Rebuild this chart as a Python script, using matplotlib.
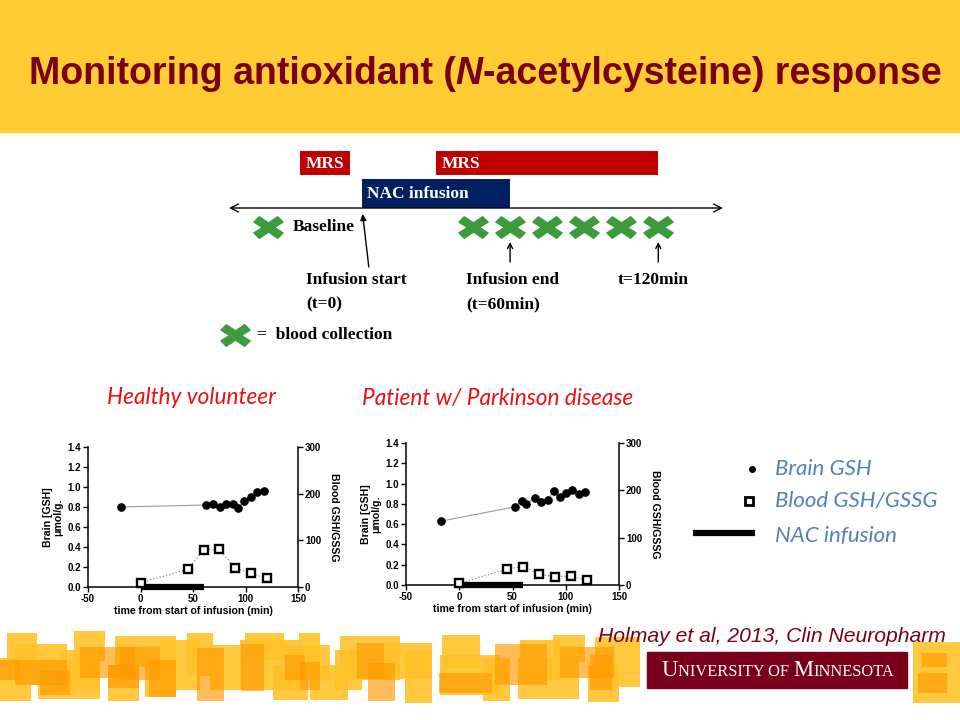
import matplotlib
matplotlib.use("Agg")
import matplotlib.pyplot as plt
from matplotlib.patches import Rectangle
from matplotlib.path import Path
from matplotlib.offsetbox import TextArea, HPacker, AnnotationBbox

# ---------------- data ----------------
# Healthy volunteer
hv_brain_t = [-19, 62, 69, 75.5, 81, 88, 93, 99, 105, 111, 118]
hv_brain_v = [0.80, 0.82, 0.83, 0.80, 0.83, 0.83, 0.79, 0.86, 0.90, 0.95, 0.96]
hv_blood_t = [0, 45, 60, 75, 90, 105, 120]
hv_blood_v = [9, 38, 79, 81, 41, 29, 19]

# Patient w/ Parkinson disease
pd_brain_t = [-17, 52, 58.5, 63, 71, 77, 83, 89, 94.5, 100, 106, 112, 118]
pd_brain_v = [0.63, 0.77, 0.83, 0.80, 0.86, 0.82, 0.84, 0.93, 0.87, 0.91, 0.94, 0.90, 0.92]
pd_blood_t = [0, 45, 60, 75, 90, 105, 120]
pd_blood_v = [3.5, 34, 39, 23, 17.5, 19, 10]

nac_window = [0, 60]          # NAC infusion, minutes

# Protocol timeline (minutes)
mrs_windows = [(-25, -5), (30, 120)]
diagram_blood_times = [-38, 45, 60, 75, 90, 105, 120]

x_ticks = [-50, 0, 50, 100, 150]
left_ticks = [0.0, 0.2, 0.4, 0.6, 0.8, 1.0, 1.2, 1.4]
right_ticks = [0, 100, 200, 300]

W, H = 960, 720
MAROON = "#7A0019"
GOLD = "#FFCC33"

fig = plt.figure(figsize=(9.6, 7.2), dpi=100)
fig.patch.set_facecolor("white")

# ---------------- overlay (pixel coordinates) ----------------
ov = fig.add_axes([0, 0, 1, 1])
ov.set_xlim(0, W)
ov.set_ylim(H, 0)
ov.axis("off")

# header band
ov.add_patch(Rectangle((0, 0), W, 132, color=GOLD, zorder=0))
title_parts = [("Monitoring antioxidant (", "normal"), ("N", "italic"),
               ("-acetylcysteine) response", "normal")]
boxes = [TextArea(t, textprops=dict(fontsize=27, fontweight="bold", color=MAROON,
                                    family="Liberation Sans", style=s))
         for t, s in title_parts]
hp = HPacker(children=boxes, pad=0, sep=0, align="baseline")
ov.add_artist(AnnotationBbox(hp, (485, 74), xycoords="data", frameon=False,
                             box_alignment=(0.5, 0.5)))

# bottom decorative squares
deco_yellow = [(7, 633, 37, 668), (15, 644, 67, 685), (0, 658, 31, 701), (38, 659, 100, 699),
               (74, 631, 105, 661), (115, 636, 176, 667), (108, 665, 139, 701),
               (187, 633, 213, 676), (245, 633, 284, 660), (273, 665, 308, 700),
               (299, 633, 320, 680), (310, 665, 348, 700), (384, 643, 432, 679),
               (405, 651, 432, 703), (442, 635, 480, 668), (483, 658, 510, 701),
               (518, 658, 579, 699), (553, 635, 585, 662), (588, 665, 619, 702),
               (595, 637, 640, 687), (913, 642, 960, 703), (145, 660, 176, 697),
               (335, 650, 362, 690), (60, 650, 100, 690), (210, 645, 245, 690),
               (283, 645, 330, 680), (240, 640, 300, 690), (520, 640, 560, 680),
               (160, 640, 200, 690), (440, 655, 500, 695), (340, 636, 400, 680)]
deco_orange = [(80, 647, 135, 678), (149, 660, 176, 697), (197, 648, 224, 701),
               (241, 644, 264, 691), (15, 660, 67, 685), (108, 665, 139, 688),
               (357, 643, 384, 679), (368, 663, 395, 701), (439, 673, 492, 693),
               (495, 644, 547, 685), (560, 647, 614, 678), (922, 653, 947, 667),
               (918, 673, 947, 693), (0, 660, 20, 680), (300, 662, 320, 690),
               (590, 655, 612, 690), (120, 647, 160, 680), (40, 670, 70, 695),
               (285, 655, 305, 680)]
for x0, y0, x1, y1 in deco_yellow:
    ov.add_patch(Rectangle((x0, y0), x1 - x0, y1 - y0, color="#FFC229", alpha=0.9,
                           lw=0, zorder=1))
for x0, y0, x1, y1 in deco_orange:
    ov.add_patch(Rectangle((x0, y0), x1 - x0, y1 - y0, color="#FF9A00", alpha=0.65,
                           lw=0, zorder=2))

# citation
ov.text(946, 636, "Holmay et al, 2013, Clin Neuropharm", fontsize=15.2, style="italic",
        color=MAROON, family="Liberation Sans", ha="right", va="center", zorder=5)

# UMN wordmark
ov.add_patch(Rectangle((647, 652), 260, 36, color=MAROON, zorder=5))
umn_parts = [("U", 16.3), ("NIVERSITY OF ", 11.8), ("M", 16.3), ("INNESOTA", 11.8)]
umn_boxes = [TextArea(t, textprops=dict(fontsize=s, color="white", family="Liberation Serif"))
             for t, s in umn_parts]
umn = HPacker(children=umn_boxes, pad=0, sep=0, align="baseline")
ov.add_artist(AnnotationBbox(umn, (778, 670), xycoords="data", frameon=False,
                             box_alignment=(0.5, 0.5), zorder=6))

# chart titles
ov.text(107, 398, "Healthy volunteer", fontsize=16.3, style="italic", color="#E81010",
        family="Lato", ha="left", va="center")
ov.text(362, 398, "Patient w/ Parkinson disease", fontsize=16.3, style="italic",
        color="#E81010", family="Lato", ha="left", va="center")

# right-hand legend
LEG = "#4F81BD"
ov.plot([752], [469], "o", color="black", ms=4)
ov.plot([749], [501], "s", mfc="white", mec="black", mew=2, ms=6)
ov.plot([693, 755], [533, 533], color="black", lw=4.5, solid_capstyle="butt")
for y, t in [(469, "Brain GSH"), (501, "Blood GSH/GSSG"), (536, "NAC infusion")]:
    ov.text(775, y, t, fontsize=16, style="italic", color=LEG, family="Lato",
            ha="left", va="center")

# ---------------- protocol timeline ----------------
tl = fig.add_axes([229 / W, 1 - 350 / H, 494 / W, 210 / H])
tl.set_xlim(-53.8, 146.2)
tl.set_ylim(350, 140)
tl.axis("off")
SERIF = dict(family="Liberation Serif", fontweight="bold", fontsize=12.5)

for t0, t1 in mrs_windows:
    tl.add_patch(Rectangle((t0, 151), t1 - t0, 24, color="#C00000", lw=0))
    tl.text(t0 + 2.4, 164, "MRS", color="white", ha="left", va="center", **SERIF)
tl.add_patch(Rectangle((nac_window[0], 179), nac_window[1] - nac_window[0], 29,
                       color="#002060", lw=0))
tl.text(nac_window[0] + 2, 194, "NAC infusion", color="white", ha="left", va="center", **SERIF)

tl.annotate("", xy=(-53.8, 208), xytext=(146.2, 208),
            arrowprops=dict(arrowstyle="<->", lw=1.0, color="black", mutation_scale=14,
                            shrinkA=0, shrinkB=0))

a, b, d, c, e = 1.35, 1.0, 0.5, 0.42, 0.55
x_verts = [(-a + d, b), (0, c), (a - d, b), (a, b - d), (e, 0), (a, -b + d), (a - d, -b),
           (0, -c), (-a + d, -b), (-a, -b + d), (-e, 0), (-a, b - d), (-a + d, b)]
xmarker = Path(x_verts)
GREEN = "#3C9C3C"
tl.plot(diagram_blood_times, [227] * len(diagram_blood_times), linestyle="none",
        marker=xmarker, ms=21, color=GREEN)
tl.text(-27.9, 227, "Baseline", color="black", ha="left", va="center", **SERIF)

tl.annotate("", xy=(0.3, 214), xytext=(2.8, 267),
            arrowprops=dict(arrowstyle="-|>", lw=1.0, color="black", mutation_scale=9,
                            shrinkA=0, shrinkB=0))
for tt in [60, 120]:
    tl.annotate("", xy=(tt, 242), xytext=(tt, 262),
                arrowprops=dict(arrowstyle="->", lw=1.0, color="black", mutation_scale=9,
                                shrinkA=0, shrinkB=0))
tl.text(-22.7, 280, "Infusion start", ha="left", va="center", **SERIF)
tl.text(-22.7, 304, "(t=0)", ha="left", va="center", **SERIF)
tl.text(42.1, 280, "Infusion end", ha="left", va="center", **SERIF)
tl.text(42.1, 304, "(t=60min)", ha="left", va="center", **SERIF)
tl.text(103.6, 280, "t=120min", ha="left", va="center", **SERIF)

tl.plot([-51.5], [335], linestyle="none", marker=xmarker, ms=21, color=GREEN, clip_on=False)
tl.text(-42.5, 335, "=  blood collection", ha="left", va="center", **SERIF)

# ---------------- charts ----------------
TICKF = dict(family="Liberation Sans", fontweight="bold", fontsize=7)
LABF = dict(family="Liberation Sans", fontweight="bold", fontsize=7.6)


def make_chart(rect, bt, bv, st, sv):
    ax = fig.add_axes(rect)
    ax.set_xlim(-50, 150)
    ax.set_ylim(0, 1.4)
    ax.plot(bt, bv, "-", color="#9a9a9a", lw=0.8, zorder=2)
    ax.plot(bt, bv, "o", color="black", ms=5.2, zorder=3)
    ax.plot(nac_window, [0, 0], color="black", lw=4.5, solid_capstyle="butt",
            clip_on=False, zorder=4)
    ax.set_xticks(x_ticks)
    ax.set_yticks(left_ticks)
    ax.set_xticklabels([str(v) for v in x_ticks], **TICKF)
    ax.set_yticklabels([f"{v:.1f}" for v in left_ticks], **TICKF)
    for s in ["top", "right"]:
        ax.spines[s].set_visible(False)
    for s in ["left", "bottom"]:
        ax.spines[s].set_linewidth(1.1)
    ax.tick_params(direction="out", length=3.5, width=1, pad=1.5)
    ax.set_xlabel("time from start of infusion (min)", labelpad=1.5, **LABF)
    ax.set_ylabel("Brain [GSH]\n\u03bcmol/g.", labelpad=3, linespacing=1.0, **LABF)

    ax2 = ax.twinx()
    ax2.set_ylim(0, 300)
    ax2.plot(st, sv, ":", color="#8c8c8c", lw=0.9, zorder=2)
    ax2.plot(st, sv, "s", mfc="white", mec="black", mew=1.7, ms=5.8, clip_on=False, zorder=5)
    ax2.set_yticks(right_ticks)
    ax2.set_yticklabels([str(v) for v in right_ticks], **TICKF)
    for s in ["top", "left", "bottom"]:
        ax2.spines[s].set_visible(False)
    ax2.spines["right"].set_linewidth(1.1)
    ax2.tick_params(direction="out", length=3.5, width=1, pad=1.5)
    ax2.set_ylabel("Blood GSH/GSSG", rotation=270, labelpad=13, **LABF)
    return ax, ax2


make_chart([88 / W, 1 - 587 / H, 210 / W, 140 / H], hv_brain_t, hv_brain_v, hv_blood_t, hv_blood_v)
make_chart([406 / W, 1 - 585 / H, 213 / W, 142 / H], pd_brain_t, pd_brain_v, pd_blood_t, pd_blood_v)

fig.savefig("out.png", dpi=100)
